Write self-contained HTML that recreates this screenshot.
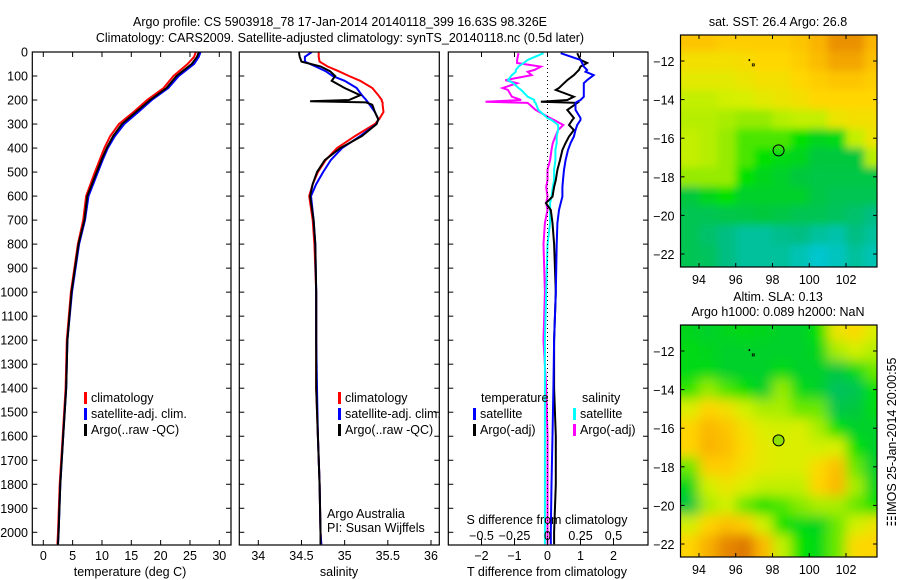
<!DOCTYPE html>
<html><head><meta charset="utf-8"><style>
html,body{margin:0;padding:0;background:#fff;}
svg{display:block;font-family:"Liberation Sans",sans-serif;}
text{font-size:12.5px;fill:#000;}
</style></head><body>
<svg id="fig" width="900" height="580" viewBox="0 0 900 580"></svg>
<script>
// ---------- data ----------
const tDepth = [0,20,50,100,150,200,250,300,350,400,450,500,600,700,800,1000,1200,1400,1600,1800,2000,2050];
const tArgo  = [26.5,26.2,25.3,22.7,21.0,18.2,15.8,13.4,11.9,10.8,9.9,9.1,7.5,7.0,6.0,4.8,4.1,3.9,3.4,2.9,2.6,2.5];
const tClim  = [26.0,25.7,24.6,22.2,20.5,17.7,15.4,12.9,11.4,10.4,9.6,8.8,7.3,6.8,5.9,4.7,4.0,3.8,3.3,2.8,2.5,2.4];
const tSat   = [26.8,26.5,25.7,23.1,21.3,18.5,16.2,13.8,12.2,11.0,10.1,9.3,7.7,7.1,6.1,4.9,4.1,3.9,3.4,2.9,2.6,2.5];

const sDepth = [0,20,40,60,80,100,120,150,180,200,205,210,220,250,280,300,350,400,450,500,550,600,700,800,1000,1200,1400,1600,1800,2000,2050];
const sArgo  = [34.47,34.48,34.5,34.72,34.83,34.89,34.85,35.0,35.18,35.05,34.6,35.25,35.32,35.35,35.39,35.37,35.2,34.95,34.77,34.68,34.63,34.6,34.64,34.66,34.67,34.67,34.67,34.69,34.71,34.72,34.72];
const sClim  = [34.70,34.70,34.71,34.80,34.93,35.05,35.18,35.32,35.39,35.43,35.43,35.44,35.44,35.45,35.40,35.35,35.12,34.91,34.78,34.69,34.63,34.59,34.63,34.65,34.67,34.67,34.67,34.69,34.71,34.72,34.73];
const sSat   = [34.62,34.54,34.54,34.66,34.78,34.86,35.0,35.14,35.2,35.25,35.26,35.27,35.29,35.35,35.39,35.37,35.18,34.97,34.84,34.75,34.67,34.61,34.64,34.66,34.67,34.67,34.68,34.69,34.71,34.72,34.73];

const dDepth = [5,33,46,61,75,82,96,117,130,150,158,186,200,207,212,241,275,283,304,325,352,379,408,450,491,533,562,602,629,658,712,800,1000,1200,1400,1600,1800,2000,2050];
const dTArgo = [0.9,1.0,1.2,1.0,0.95,0.9,0.8,0.6,0.5,0.35,0.25,0.8,0.6,-0.2,0.9,0.6,0.8,0.75,0.65,0.8,0.65,0.55,0.45,0.38,0.3,0.25,0.2,0.15,-0.05,0.1,0.15,0.2,0.25,0.2,0.2,0.25,0.25,0.2,0.2];
const dTSat  = [0.4,1.0,1.05,1.1,1.2,1.15,1.4,1.2,1.1,1.1,1.1,1.1,1.0,0.9,0.85,0.85,1.0,1.0,0.9,0.85,0.8,0.7,0.62,0.55,0.5,0.47,0.45,0.45,0.4,0.35,0.3,0.28,0.25,0.2,0.18,0.15,0.12,0.1,0.1];
const dSArgo = [-0.22,-0.23,-0.23,-0.05,-0.1,-0.15,-0.12,-0.32,-0.23,-0.34,-0.3,-0.27,-0.2,-0.47,-0.15,-0.09,0.02,0.05,0.12,0.08,0.06,0.04,0.03,0.02,0.0,0.0,-0.01,0.0,-0.01,0.0,-0.02,-0.03,-0.02,-0.03,-0.01,0.0,0.0,0.0,0.0];
const dSSat  = [-0.03,-0.15,-0.18,-0.22,-0.24,-0.24,-0.27,-0.3,-0.26,-0.22,-0.2,-0.15,-0.1,-0.1,-0.09,-0.07,0.0,0.03,0.08,0.08,0.07,0.07,0.06,0.06,0.05,0.05,0.04,0.03,0.02,0.02,0.02,0.0,-0.01,-0.02,-0.02,-0.02,-0.02,-0.02,-0.02];

const depthTicks = [0,100,200,300,400,500,600,700,800,900,1000,1100,1200,1300,1400,1500,1600,1700,1800,1900,2000];
const tempTicks = [0,5,10,15,20,25,30];
const salTicks = [34,34.5,35,35.5,36];
const dTTicks = [-2,-1,0,1,2];
const dSTicks = [-0.5,-0.25,0,0.25,0.5];
const dSTickLabels = ["−0.5","−0.25","0","0.25","0.5"];
const dTTickLabels = ["−2","−1","0","1","2"];

const lonTicks = [94,96,98,100,102];
const latTicks = [-12,-14,-16,-18,-20,-22];
const gridLats = [-11,-12,-13,-14,-15,-16,-17,-18,-19,-20,-21,-22];
const gridLons = [93.5,94.5,95.5,96.5,97.5,98.5,99.5,100.5,101.5,102.5,103.5];
const sstGrid = [
[0.8,0.8,0.78,0.78,0.78,0.78,0.8,0.85,0.92,0.92,0.85],
[0.72,0.72,0.72,0.73,0.75,0.75,0.78,0.83,0.88,0.88,0.82],
[0.68,0.68,0.68,0.7,0.72,0.72,0.75,0.78,0.8,0.8,0.78],
[0.62,0.62,0.64,0.65,0.68,0.7,0.72,0.75,0.75,0.75,0.75],
[0.6,0.6,0.58,0.55,0.55,0.6,0.62,0.62,0.7,0.72,0.72],
[0.62,0.6,0.55,0.5,0.5,0.5,0.45,0.4,0.42,0.62,0.7],
[0.62,0.6,0.55,0.5,0.45,0.42,0.4,0.35,0.35,0.35,0.6],
[0.55,0.55,0.55,0.45,0.4,0.38,0.35,0.33,0.33,0.33,0.33],
[0.35,0.4,0.45,0.38,0.38,0.38,0.38,0.33,0.3,0.3,0.3],
[0.3,0.3,0.32,0.33,0.35,0.33,0.3,0.3,0.28,0.25,0.2],
[0.3,0.25,0.2,0.15,0.15,0.18,0.2,0.15,0.12,0.2,0.15],
[0.3,0.28,0.2,0.15,0.15,0.15,0.1,0.05,0.08,0.15,0.1]];
const slaGrid = [
[0.4,0.38,0.4,0.42,0.4,0.38,0.38,0.45,0.7,0.74,0.66],
[0.42,0.4,0.38,0.38,0.38,0.38,0.38,0.4,0.58,0.64,0.6],
[0.42,0.42,0.38,0.38,0.38,0.42,0.38,0.38,0.34,0.42,0.52],
[0.48,0.55,0.5,0.44,0.38,0.55,0.42,0.38,0.28,0.3,0.44],
[0.66,0.76,0.72,0.64,0.58,0.58,0.52,0.52,0.32,0.35,0.42],
[0.76,0.84,0.8,0.72,0.66,0.64,0.66,0.58,0.45,0.38,0.38],
[0.76,0.85,0.82,0.74,0.68,0.66,0.66,0.64,0.66,0.45,0.38],
[0.52,0.78,0.78,0.72,0.68,0.66,0.66,0.74,0.82,0.52,0.38],
[0.4,0.64,0.7,0.66,0.62,0.62,0.62,0.76,0.84,0.58,0.4],
[0.34,0.58,0.64,0.52,0.45,0.5,0.54,0.58,0.58,0.52,0.46],
[0.64,0.76,0.82,0.78,0.64,0.45,0.42,0.4,0.52,0.64,0.7],
[0.76,0.86,0.94,0.97,0.84,0.62,0.45,0.42,0.52,0.74,0.76]];
const argoLon = 98.33, argoLat = -16.63;

// ---------- helpers ----------
const NS = "http://www.w3.org/2000/svg";
const svg = document.getElementById("fig");
function mk(tag, attrs, parent){
  const e = document.createElementNS(NS, tag);
  for (const k in attrs) e.setAttribute(k, attrs[k]);
  (parent||svg).appendChild(e);
  return e;
}
function txt(x,y,s,anchor,parent){
  const t = mk("text",{x:x,y:y,"text-anchor":anchor||"middle"},parent);
  t.textContent = s; return t;
}
const top0 = 52, bot0 = 545;
const yD = d => top0 + d*(532.3-52)/2000;
const xT = v => 43.3 + v*(219.3-43.3)/30;
const xS = v => 258.3 + (v-34)*(431-258.3)/2;
const xdT = v => 547.5 + v*33;
const xdS = v => 547.5 + v*132;
const panels = [{x0:32.3,x1:231},{x0:239.3,x1:439.3},{x0:448.3,x1:648}];

// titles
let t1 = txt(340,26,"Argo profile: CS 5903918_78 17-Jan-2014 20140118_399 16.63S 98.326E");


let t2 = txt(340,42,"Climatology: CARS2009. Satellite-adjusted climatology: synTS_20140118.nc (0.5d later)");



function line(xf, depths, vals, color, w, parent, name){
  const pts = depths.map((d,i)=> xf(vals[i]).toFixed(1)+","+yD(d).toFixed(1)).join(" ");
  const p = mk("polyline",{points:pts,fill:"none",stroke:color,"stroke-width":w,"stroke-linejoin":"miter"},parent);
  
  
}

panels.forEach((p,i)=>{
  const g = mk("g",{});
  
  
  const clip = mk("clipPath",{id:"c"+i});
  mk("rect",{x:p.x0,y:top0,width:p.x1-p.x0,height:bot0-top0},clip);
  p.g = g;
  p.clipG = mk("g",{"clip-path":"url(#c"+i+")"},g);
});

// depth axis
depthTicks.forEach(d=>{
  const lab = txt(28, yD(d)+4.5, String(d), "end");
  
  
  panels.forEach(p=>{
    mk("line",{x1:p.x0,x2:p.x0+5,y1:yD(d),y2:yD(d),stroke:"#000"},p.g);
    mk("line",{x1:p.x1,x2:p.x1-5,y1:yD(d),y2:yD(d),stroke:"#000"},p.g);
  });
});
// x ticks
function xticks(p, ticks, f, labels, ly, topTicks){
  ticks.forEach((v,i)=>{
    const x = f(v);
    mk("line",{x1:x,x2:x,y1:bot0,y2:bot0-5,stroke:"#000"},p.g);
    if (topTicks) mk("line",{x1:x,x2:x,y1:top0,y2:top0+5,stroke:"#000"},p.g);
    const l = txt(x, ly, labels ? labels[i] : String(v));
    
    
  });
}
xticks(panels[0], tempTicks, xT, null, 560, true);
xticks(panels[1], salTicks, xS, null, 560, false);
xticks(panels[2], dTTicks, xdT, dTTickLabels, 560, true);
dSTicks.forEach((v,i)=>{
  const x = xdS(v);
  mk("line",{x1:x,x2:x,y1:538,y2:544,stroke:"#000"},panels[2].g);
  const l = txt(x, 540, dSTickLabels[i]);
  
  
});
// zero line
mk("line",{x1:xdT(0),x2:xdT(0),y1:top0,y2:bot0,stroke:"#000","stroke-dasharray":"1,3"},panels[2].g);

// series
line(xT,tDepth,tClim,"#f00",2,panels[0].clipG,"temp-climatology-line");
line(xT,tDepth,tSat,"#00f",2,panels[0].clipG,"temp-satellite-line");
line(xT,tDepth,tArgo,"#000",2,panels[0].clipG,"temp-argo-line");
line(xS,sDepth,sClim,"#f00",2,panels[1].clipG,"sal-climatology-line");
line(xS,sDepth,sSat,"#00f",2,panels[1].clipG,"sal-satellite-line");
line(xS,sDepth,sArgo,"#000",2,panels[1].clipG,"sal-argo-line");
line(xdS,dDepth,dSArgo,"#f0f",2,panels[2].clipG,"sal-diff-argo-line");
line(xdS,dDepth,dSSat,"#0ff",2,panels[2].clipG,"sal-diff-satellite-line");
line(xdT,dDepth,dTArgo,"#000",2,panels[2].clipG,"temp-diff-argo-line");
line(xdT,dDepth,dTSat,"#00f",2,panels[2].clipG,"temp-diff-satellite-line");

// frames
panels.forEach(p=>{
  mk("rect",{x:p.x0,y:top0,width:p.x1-p.x0,height:bot0-top0,fill:"none",stroke:"#000","stroke-width":1.2},p.g);
});

// legends
function legEntry(x,y,color,label,name){
  const g = mk("g",{});
  
  
  mk("rect",{x:x,y:y-10,width:3,height:12,fill:color},g);
  txt(x+7,y,label,"start",g);
}
[[0,84],[1,338]].forEach(([pi,x])=>{
  legEntry(x,402,"#f00","climatology","legend-climatology");
  legEntry(x,418,"#00f","satellite-adj. clim.","legend-satellite-adj");
  legEntry(x,434,"#000","Argo(..raw -QC)","legend-argo");
});
txt(481,402,"temperature","start");
legEntry(473,418,"#00f","satellite","legend-temp-satellite");
legEntry(473,434,"#000","Argo(-adj)","legend-temp-argo");
txt(582,402,"salinity","start");
legEntry(573,418,"#0ff","satellite","legend-sal-satellite");
legEntry(573,434,"#f0f","Argo(-adj)","legend-sal-argo");

txt(327,518,"Argo Australia","start");
txt(327,532,"PI: Susan Wijffels","start");
txt(547,524,"S difference from climatology");
txt(130,576,"temperature (deg C)");
txt(339,576,"salinity");
txt(547,576,"T difference from climatology");

// ---------- maps ----------
const stops = [[0,[0,200,230]],[0.2,[0,190,130]],[0.35,[0,200,60]],[0.45,[0,225,0]],[0.55,[150,235,0]],[0.65,[215,240,0]],[0.75,[255,215,0]],[0.85,[250,180,0]],[1,[215,105,0]]];
function cmap(v){
  for (let i=1;i<stops.length;i++){
    if (v<=stops[i][0]){
      const [a,ca]=stops[i-1],[b,cb]=stops[i]; const t=(v-a)/(b-a);
      return "rgb("+ca.map((c,k)=>Math.round(c+(cb[k]-c)*t)).join(",")+")";
    }
  }
  return "rgb(215,105,0)";
}
function drawMap(y0, grid, blur, name, titleLines){
  const x0=680.5, x1=877, y1=y0+232;
  const lonX = lo => 699 + (lo-94)*(846-699)/8;
  const latY = la => y0+26 + (-12-la)*(254-61)/10;
  const g = mk("g",{});
  
  
  const clip = mk("clipPath",{id:"clip-"+name},g);
  mk("rect",{x:x0,y:y0,width:x1-x0,height:y1-y0},clip);
  const f = mk("filter",{id:"blur-"+name,x:"-10%",y:"-10%",width:"120%",height:"120%"},g);
  mk("feGaussianBlur",{stdDeviation:blur,"edge-mode":"duplicate"},f);
  const cg = mk("g",{"clip-path":"url(#clip-"+name+")"},g);
  const ig = mk("g",{filter:"url(#blur-"+name+")"},cg);
  const cw = lonX(1)-lonX(0), ch = latY(-1)-latY(0);
  const pad = 15;
  gridLats.forEach((la,r)=>gridLons.forEach((lo,c)=>{
    const cell = mk("rect",{x:lonX(lo)-cw/2-pad*(c==0),y:latY(la)-ch/2-pad*(r==0),
      width:cw+1+pad*(c==0||c==gridLons.length-1),height:ch+1+pad*(r==0||r==gridLats.length-1),fill:cmap(grid[r][c])},ig);
    
    
  }));
  mk("rect",{x:lonX(96.7),y:latY(-11.9),width:1.5,height:2,fill:"#000"},g);
  mk("rect",{x:lonX(96.9),y:latY(-12.15),width:2,height:2,fill:"none",stroke:"#000","stroke-width":0.8},g);
  const c = mk("circle",{cx:lonX(argoLon),cy:latY(argoLat),r:5.5,fill:name=="sla-map"?"#8ee000":"none",stroke:"#000","stroke-width":1},g);
  
  
  mk("rect",{x:x0,y:y0,width:x1-x0,height:y1-y0,fill:"none",stroke:"#000","stroke-width":1.2},g);
  lonTicks.forEach(lo=>{
    const x=lonX(lo);
    mk("line",{x1:x,x2:x,y1:y0,y2:y0+4,stroke:"#000"},g);
    mk("line",{x1:x,x2:x,y1:y1,y2:y1-4,stroke:"#000"},g);
    txt(x,y1+17,String(lo),"middle",g);
  });
  latTicks.forEach(la=>{
    const y=latY(la);
    mk("line",{x1:x0,x2:x0+4,y1:y,y2:y,stroke:"#000"},g);
    mk("line",{x1:x1,x2:x1-4,y1:y,y2:y,stroke:"#000"},g);
    txt(x0-6,y+5,"−"+String(-la),"end",g);
  });
  titleLines.forEach((s,i)=>txt(778,y0-(titleLines.length-1-i)*15-9,s,"middle",g));
}
drawMap(35, sstGrid, 4, "sst-map", ["sat. SST: 26.4 Argo: 26.8"]);
drawMap(325, slaGrid, 6, "sla-map", ["Altim. SLA: 0.13","Argo h1000: 0.089 h2000: NaN"]);
const imos = txt(0,0,"\u2637IMOS 25-Jan-2014 20:00:55","middle");
imos.setAttribute("transform","translate(896,442) rotate(-90)");


</script>
</body></html>
